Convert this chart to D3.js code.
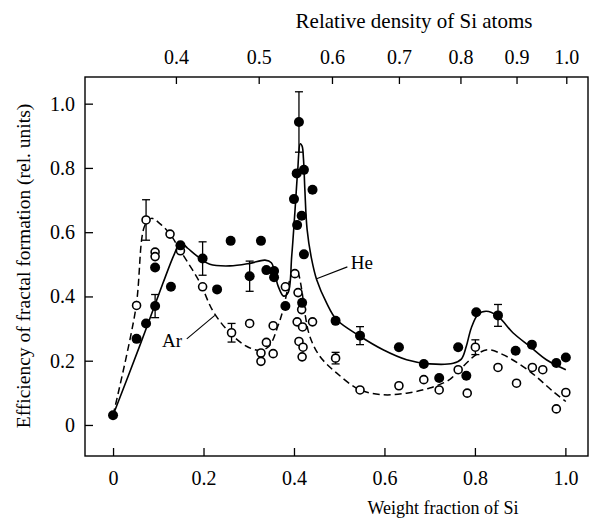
<!DOCTYPE html>
<html>
<head>
<meta charset="utf-8">
<script src="https://cdn.jsdelivr.net/npm/d3@7"></script>
<style>
  body { margin: 0; background: #fff; }
</style>
</head>
<body>
<svg id="chart" width="590" height="520"></svg>
<script>
// He measurements (filled circles): [weight fraction, efficiency]
const heliumPoints = [
  [0.0, 0.03], [0.052, 0.268], [0.073, 0.316], [0.093, 0.49], [0.128, 0.43],
  [0.149, 0.559], [0.23, 0.422], [0.26, 0.573], [0.327, 0.573], [0.339, 0.482],
  [0.356, 0.479], [0.356, 0.46], [0.381, 0.37], [0.4, 0.703], [0.406, 0.783],
  [0.407, 0.622], [0.417, 0.651], [0.418, 0.38], [0.422, 0.794], [0.422, 0.531],
  [0.441, 0.732], [0.492, 0.324], [0.632, 0.242], [0.687, 0.19], [0.721, 0.146],
  [0.763, 0.242], [0.781, 0.153], [0.803, 0.351], [0.89, 0.231], [0.926, 0.25],
  [0.98, 0.193], [1.001, 0.21]
];
// He points with error bars: [w, value, half-error]
const heliumErrors = [
  [0.093, 0.37, 0.036], [0.198, 0.518, 0.052], [0.302, 0.463, 0.047],
  [0.411, 0.943, 0.094], [0.546, 0.278, 0.028], [0.851, 0.341, 0.034]
];
// Ar measurements (open circles)
const argonPoints = [
  [0.052, 0.372], [0.093, 0.538], [0.093, 0.524], [0.126, 0.594], [0.149, 0.542],
  [0.198, 0.43], [0.302, 0.316], [0.327, 0.224], [0.327, 0.198], [0.339, 0.257],
  [0.354, 0.309], [0.354, 0.222], [0.381, 0.43], [0.402, 0.471], [0.407, 0.321],
  [0.409, 0.412], [0.411, 0.26], [0.417, 0.359], [0.418, 0.212], [0.419, 0.305],
  [0.42, 0.242], [0.441, 0.321], [0.546, 0.109], [0.632, 0.122], [0.687, 0.141],
  [0.721, 0.109], [0.763, 0.172], [0.783, 0.099], [0.851, 0.179], [0.892, 0.13],
  [0.927, 0.179], [0.95, 0.172], [0.98, 0.05], [1.001, 0.101]
];
const argonErrors = [
  [0.073, 0.638, 0.063], [0.262, 0.287, 0.029], [0.492, 0.208, 0.018], [0.801, 0.242, 0.023]
];
// fitted curves
const heliumCurve = [
  [0.0, 0.03], [0.06, 0.25], [0.11, 0.44], [0.135, 0.53], [0.149, 0.568], [0.165, 0.55],
  [0.192, 0.519], [0.214, 0.5], [0.258, 0.495], [0.302, 0.503], [0.336, 0.513],
  [0.35, 0.505], [0.365, 0.432], [0.377, 0.401], [0.387, 0.412], [0.395, 0.526],
  [0.402, 0.662], [0.408, 0.787], [0.414, 0.875], [0.418, 0.868], [0.421, 0.828],
  [0.424, 0.734], [0.429, 0.609], [0.439, 0.516], [0.45, 0.453], [0.472, 0.38],
  [0.494, 0.328], [0.546, 0.276], [0.597, 0.234], [0.649, 0.203], [0.7, 0.19],
  [0.752, 0.192], [0.77, 0.205], [0.781, 0.245], [0.792, 0.302], [0.807, 0.344],
  [0.825, 0.354], [0.851, 0.338], [0.884, 0.287], [0.921, 0.245], [0.958, 0.203],
  [1.001, 0.172]
];
const argonCurve = [
  [0.0, 0.03], [0.05, 0.36], [0.07, 0.62], [0.085, 0.643], [0.105, 0.625],
  [0.126, 0.594], [0.149, 0.542], [0.192, 0.443], [0.221, 0.354], [0.258, 0.287],
  [0.295, 0.245], [0.325, 0.232], [0.345, 0.245], [0.365, 0.31], [0.376, 0.359],
  [0.391, 0.453], [0.399, 0.479], [0.408, 0.474], [0.417, 0.422], [0.424, 0.349],
  [0.435, 0.276], [0.457, 0.214], [0.494, 0.162], [0.546, 0.109], [0.597, 0.094],
  [0.649, 0.099], [0.7, 0.115], [0.744, 0.141], [0.763, 0.167], [0.803, 0.219],
  [0.829, 0.234], [0.862, 0.219], [0.921, 0.167], [0.973, 0.104], [1.001, 0.073]
];
const bottomTicks = [0, 0.2, 0.4, 0.6, 0.8, 1.0];
const leftTicks = [0, 0.2, 0.4, 0.6, 0.8, 1.0];
// top axis: relative density labels and where they sit on the weight-fraction axis
const topTickLabels = ["0.4", "0.5", "0.6", "0.7", "0.8", "0.9", "1.0"];
const topTickPos = [0.139, 0.322, 0.484, 0.632, 0.768, 0.892, 1.002];

const serif = "'Liberation Serif', 'Times New Roman', Times, 'DejaVu Serif', serif";

const svg = d3.select("#chart");
const width = +svg.attr("width");
const height = +svg.attr("height");
const margin = { top: 77, right: 2, bottom: 64, left: 85 };

const x = d3.scaleLinear().domain([-0.062, 1.05]).range([margin.left, width - margin.right]);
const y = d3.scaleLinear().domain([-0.0966, 1.083]).range([height - margin.bottom, margin.top]);
const fmt = (d) => (d === 0 ? "0" : d3.format(".1f")(d));

// frame
svg.append("rect")
  .attr("x", x.range()[0]).attr("y", y.range()[1])
  .attr("width", x.range()[1] - x.range()[0])
  .attr("height", y.range()[0] - y.range()[1])
  .attr("fill", "none").attr("stroke", "#000").attr("stroke-width", 1.4);

// bottom axis, ticks point inward
const xAxisG = svg.append("g")
  .attr("transform", `translate(0,${y.range()[0]})`)
  .call(d3.axisBottom(x).tickValues(bottomTicks).tickFormat(fmt).tickSizeInner(-8).tickPadding(15));
xAxisG.select(".domain").remove();

// left axis
const yAxisG = svg.append("g")
  .attr("transform", `translate(${x.range()[0]},0)`)
  .call(d3.axisLeft(y).tickValues(leftTicks).tickFormat(fmt).tickSizeInner(-8).tickPadding(10));
yAxisG.select(".domain").remove();

// top axis: relative density of Si atoms
const topScale = d3.scaleLinear().domain(topTickLabels.map(Number)).range(topTickPos.map(x));
const topAxisG = svg.append("g")
  .attr("transform", `translate(0,${y.range()[1]})`)
  .call(d3.axisTop(topScale).tickValues(topTickLabels.map(Number)).tickFormat(d3.format(".1f")).tickSizeInner(-7).tickPadding(13));
topAxisG.select(".domain").remove();

svg.selectAll("g").attr("font-family", serif);
svg.selectAll(".tick line").attr("stroke-width", 1.3);
svg.selectAll(".tick text").style("font-family", serif).style("font-size", "20px");

const addText = (xPos, yPos, str, size) =>
  svg.append("text").attr("x", xPos).attr("y", yPos)
    .style("font-family", serif).style("font-size", `${size}px`).attr("fill", "#000").text(str);

// axis titles
addText(443, 514, "Weight fraction of Si", 18).attr("text-anchor", "middle");
addText(414, 28, "Relative density of Si atoms", 21).attr("text-anchor", "middle");
addText(0, 0, "Efficiency of fractal formation (rel. units)", 19.5)
  .attr("text-anchor", "middle").attr("transform", "translate(30,266) rotate(-90)");

// curves
const line = d3.line().x((d) => x(d[0])).y((d) => y(d[1])).curve(d3.curveCatmullRom.alpha(0.5));
svg.append("path").datum(argonCurve).attr("d", line)
  .attr("fill", "none").attr("stroke", "#000").attr("stroke-width", 1.5).attr("stroke-dasharray", "7,4");
svg.append("path").datum(heliumCurve).attr("d", line)
  .attr("fill", "none").attr("stroke", "#000").attr("stroke-width", 1.6);

// error bars
const drawErrors = (data) => {
  const g = svg.append("g").attr("stroke", "#000").attr("stroke-width", 1.3);
  data.forEach(([w, v, e]) => {
    g.append("line").attr("x1", x(w)).attr("x2", x(w)).attr("y1", y(v - e)).attr("y2", y(v + e));
    [v - e, v + e].forEach((c) =>
      g.append("line").attr("x1", x(w) - 4).attr("x2", x(w) + 4).attr("y1", y(c)).attr("y2", y(c)));
  });
};
drawErrors(argonErrors);
drawErrors(heliumErrors);

// markers
svg.append("g").selectAll("circle")
  .data(argonPoints.concat(argonErrors))
  .enter().append("circle")
  .attr("cx", (d) => x(d[0])).attr("cy", (d) => y(d[1])).attr("r", 4)
  .attr("fill", "#fff").attr("stroke", "#000").attr("stroke-width", 1.6);

svg.append("g").selectAll("circle")
  .data(heliumPoints.concat(heliumErrors))
  .enter().append("circle")
  .attr("cx", (d) => x(d[0])).attr("cy", (d) => y(d[1])).attr("r", 5)
  .attr("fill", "#000");

// series labels with leader lines
const labels = [
  { text: "He", at: [0.521, 0.484], from: [0.45, 0.455], to: [0.518, 0.492] },
  { text: "Ar", at: [0.104, 0.244], from: [0.163, 0.268], to: [0.225, 0.341] }
];
labels.forEach((l) => {
  svg.append("line")
    .attr("x1", x(l.from[0])).attr("y1", y(l.from[1]))
    .attr("x2", x(l.to[0])).attr("y2", y(l.to[1]))
    .attr("stroke", "#000").attr("stroke-width", 1.1);
  addText(x(l.at[0]) + 2, y(l.at[1]), l.text, 19);
});
</script>
</body>
</html>
